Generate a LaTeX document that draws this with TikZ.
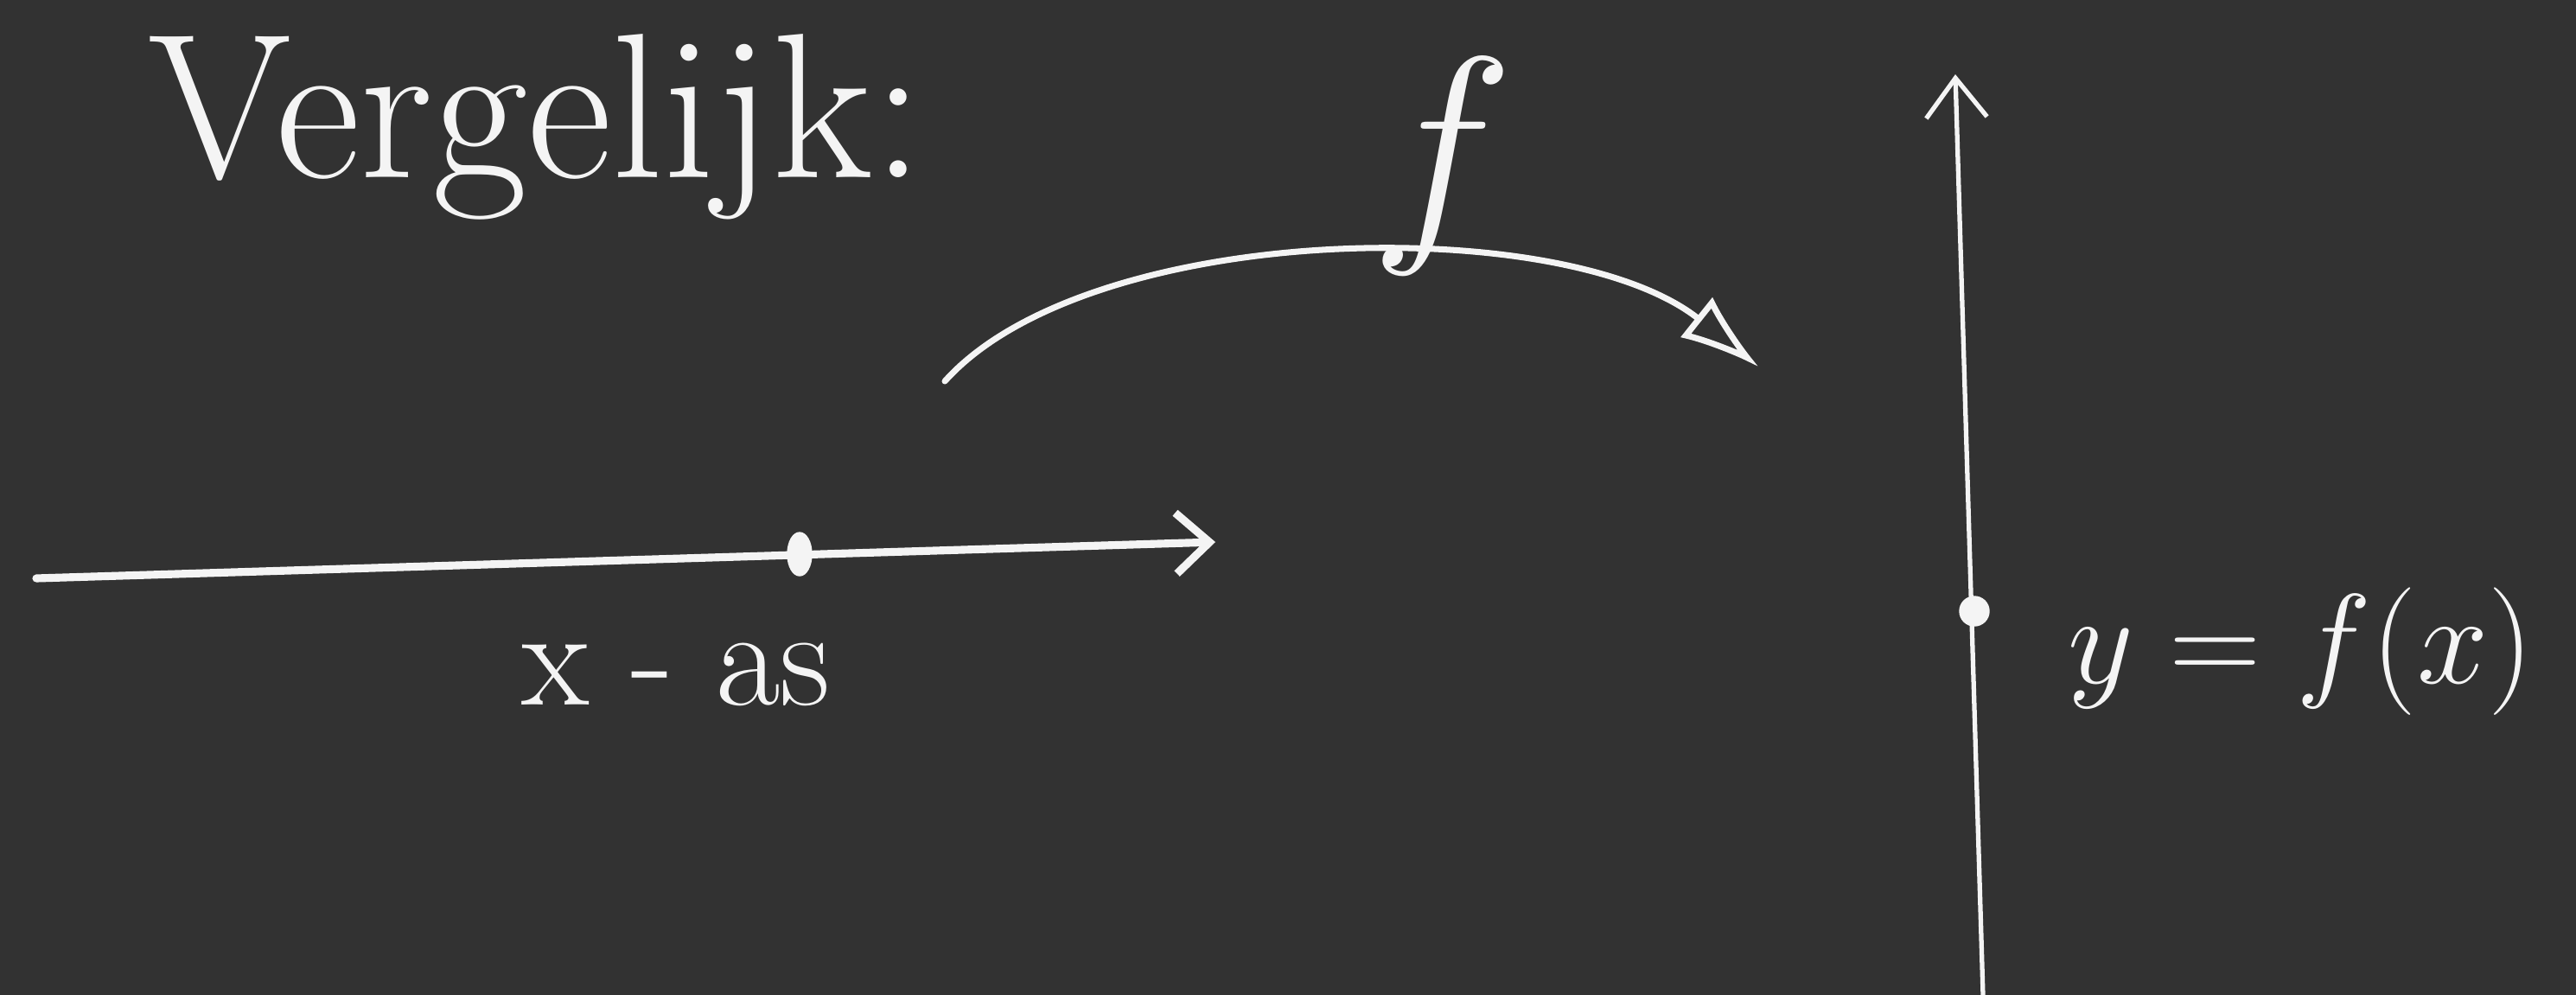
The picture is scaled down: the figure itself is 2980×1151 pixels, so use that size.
\RequirePackage{fix-cm}
\documentclass[tikz,border=0pt]{standalone}
\usetikzlibrary{arrows.meta,shapes.geometric}
\definecolor{board}{RGB}{50,50,50}
\definecolor{chalk}{RGB}{244,244,244}
\begin{document}
\begin{tikzpicture}[x=0.01cm,y=-0.01cm,
  stroke/.style={draw=chalk, line cap=round, line join=round},
  xaxisline/.style={stroke, line width=2.6pt, -{Straight Barb[length=11pt,width=20pt]}},
  yaxisline/.style={stroke, line width=1.5pt, -{Straight Barb[length=13pt,width=20pt]}},
  maparrow/.style={stroke, line width=2pt, -{Latex[open,length=26pt,width=17pt]}},
  chalktext/.style={text=chalk, inner sep=0pt},
  pointmark/.style={fill=chalk, draw=chalk, inner sep=0pt}]
\fill[board] (0,0) rectangle (2980,1151);
\useasboundingbox (0,0) rectangle (2980,1151);

% title
\node[chalktext, font=\fontsize{68}{78}\selectfont, anchor=base west] (title) at (171,205) {Vergelijk:};

% x-axis
\coordinate (xs) at (42,669);
\coordinate (xe) at (1406,627);
\draw[xaxisline] (xs) -- (xe);
\node[pointmark, ellipse, minimum height=0.5cm, minimum width=0.28cm] (xdot) at (925,641) {};
\node[chalktext, font=\fontsize{46}{52}\selectfont, anchor=base] (xlabel) at (782,815) {x - as};

% mapping arrow
\coordinate (as) at (1093,441);
\coordinate (ae) at (2034,424);
\draw[maparrow] (as) .. controls (1260,255) and (1810,245) .. (ae);
\node[chalktext, font=\fontsize{80}{90}\selectfont, anchor=base] (flabel) at (1668,262) {$f$};

% y-axis
\coordinate (ys) at (2294,1151);
\coordinate (ye) at (2262,86);
\draw[yaxisline] (ys) -- (ye);
\node[pointmark, circle, minimum size=0.34cm] (ydot) at (2284,707) {};
\node[chalktext, font=\fontsize{42}{48}\selectfont, anchor=base west] (ylabel) at (2392,790) {$y=f(x)$};
\end{tikzpicture}
\end{document}
